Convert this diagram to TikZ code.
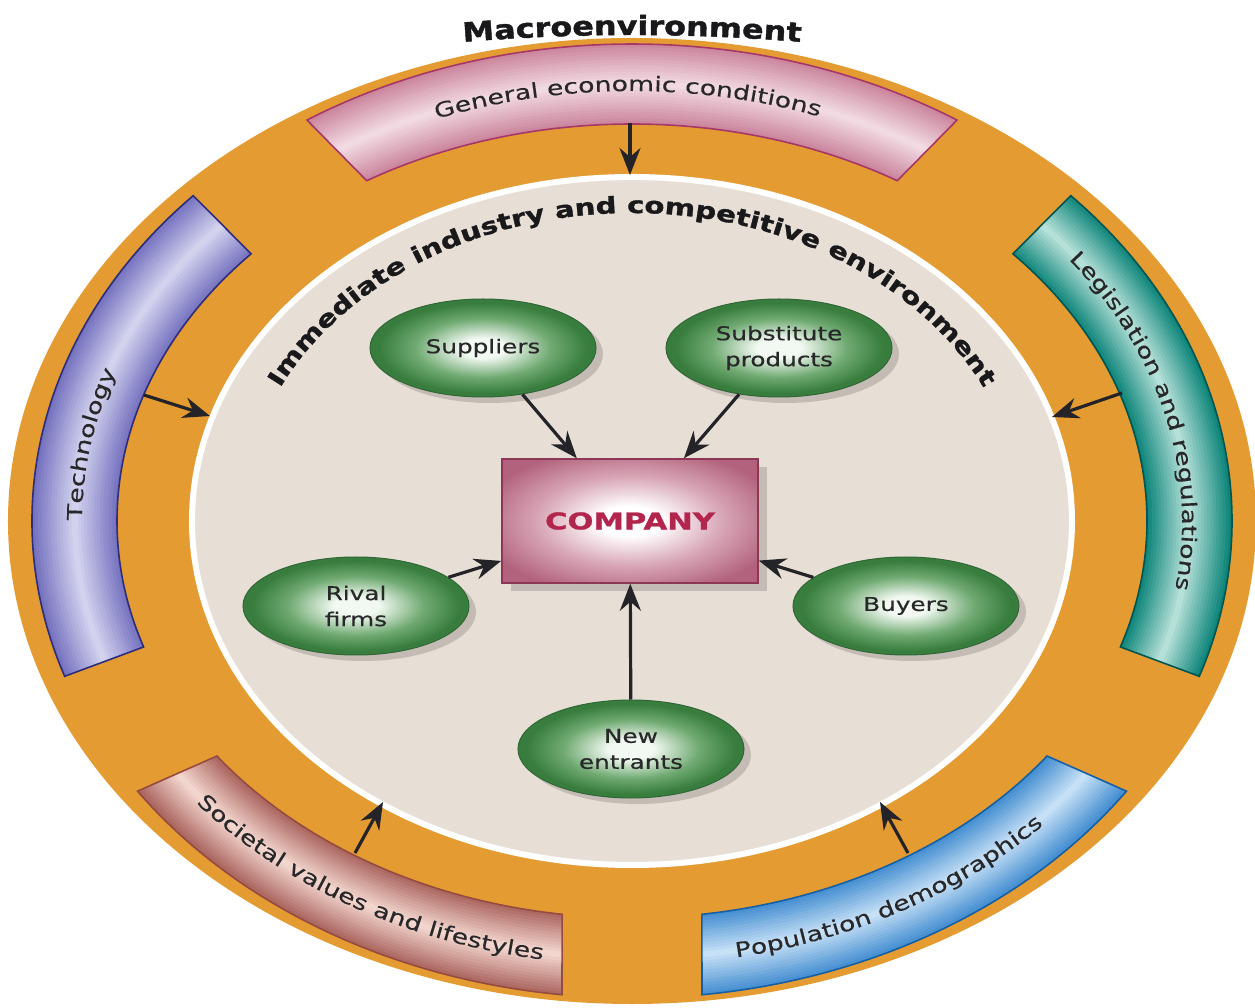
\documentclass[tikz,border=0pt]{standalone}
\usepackage{fontspec}
\usepackage{graphicx}
\usetikzlibrary{shapes.geometric,arrows.meta,decorations.text,shadows}
\newfontfamily\bandfont{DejaVu Sans}[FakeStretch=1.3,FakeBold=0.3]
\newfontfamily\nodefont{DejaVu Sans}[FakeStretch=1.3,FakeBold=0.5]
\newfontfamily\heavyA{DejaVu Sans}[FakeStretch=1.2,FakeBold=1.6]
\newfontfamily\heavyB{DejaVu Sans}[FakeStretch=1.28,FakeBold=1.4]
\newfontfamily\compfam{DejaVu Sans}[FakeStretch=1.33,FakeBold=1.2]

\definecolor{orangebg}{RGB}{228,155,50}
\definecolor{beige}{RGB}{231,223,213}
\definecolor{txtgray}{RGB}{40,40,42}
\definecolor{darktxt}{RGB}{25,25,28}
\definecolor{arrowc}{RGB}{35,35,40}
\definecolor{greenD}{RGB}{56,125,62}
\definecolor{greenM}{RGB}{112,170,114}
\definecolor{greenC}{RGB}{242,249,242}
\definecolor{greenB}{RGB}{48,102,54}
\definecolor{shadowc}{RGB}{196,188,180}
\definecolor{compD}{RGB}{178,98,124}
\definecolor{compM}{RGB}{216,166,182}
\definecolor{compB}{RGB}{140,55,85}
\definecolor{compTxt}{RGB}{178,38,78}
\definecolor{genD}{RGB}{198,122,148}
\definecolor{genL}{RGB}{242,218,226}
\definecolor{genB}{RGB}{165,55,105}
\definecolor{techD}{RGB}{110,106,188}
\definecolor{techL}{RGB}{210,210,238}
\definecolor{techB}{RGB}{45,45,125}
\definecolor{legD}{RGB}{0,125,115}
\definecolor{legL}{RGB}{180,224,216}
\definecolor{legB}{RGB}{0,85,80}
\definecolor{socD}{RGB}{162,88,82}
\definecolor{socL}{RGB}{242,214,206}
\definecolor{socB}{RGB}{150,75,65}
\definecolor{popD}{RGB}{52,132,204}
\definecolor{popL}{RGB}{198,224,246}
\definecolor{popB}{RGB}{20,95,165}

\pgfdeclareradialshading{greenball}{\pgfpoint{0bp}{0bp}}{color(0bp)=(greenC); color(5bp)=(greenC); color(15bp)=(greenM); color(23bp)=(greenD); color(25bp)=(greenD); color(50bp)=(greenD)}
\pgfdeclareradialshading{compshade}{\pgfpoint{0bp}{0bp}}{color(0bp)=(white); color(6bp)=(white); color(18bp)=(compM); color(30bp)=(compD); color(50bp)=(compD)}

\newcommand\bandtxt{\bandfont\fontsize{20.5}{24}\selectfont\color{txtgray}}
\newcommand\nodetxt{\nodefont\fontsize{19}{26}\selectfont}
\newcommand\macrotxt{\heavyA\bfseries\fontsize{26.5}{30}\selectfont\color{darktxt}}
\newcommand\imtxt{\heavyB\bfseries\fontsize{22.8}{26}\selectfont\color{darktxt}}

% o1 o2 i1 i2 m1 m2 dark light border
\newcommand\band[9]{%
  \begin{scope}
    \clip (#1:600pt and 477pt) arc[start angle=#1,end angle=#2,x radius=600pt,y radius=477pt]
      -- (#3:515pt and 397pt) arc[start angle=#3,end angle=#4,x radius=515pt,y radius=397pt] -- cycle;
    \fill[#7] (-700,-600) rectangle (700,600);
    \foreach \k in {0,...,14}{
      \pgfmathsetmacro\bw{92*(1-\k/15)}
      \pgfmathtruncatemacro\bp{100*\k/14}
      \draw[line width=\bw pt, color=#8!\bp!#7] (#5:557pt and 437pt)
        arc[start angle=#5,end angle=#6,x radius=557pt,y radius=437pt];
    }
  \end{scope}
  \draw[#9, line width=1.6pt, line join=miter] (#1:600pt and 477pt) arc[start angle=#1,end angle=#2,x radius=600pt,y radius=477pt]
      -- (#3:515pt and 397pt) arc[start angle=#3,end angle=#4,x radius=515pt,y radius=397pt] -- cycle;
}

\begin{document}
\begin{tikzpicture}[x=1pt,y=1pt,
  env/.style={ellipse, minimum width=226pt, minimum height=98pt, inner sep=0pt,
    draw=greenB, line width=1pt, shading=greenball,
    drop shadow={shadow xshift=7pt,shadow yshift=-6pt,fill=shadowc,opacity=1},
    align=center, font=\nodetxt, text=txtgray},
  compbox/.style={rectangle, minimum width=256pt, minimum height=124pt, inner sep=0pt,
    draw=compB, line width=1.5pt, shading=compshade,
    drop shadow={shadow xshift=9pt,shadow yshift=-8pt,fill=shadowc,opacity=1},
    font=\compfam\bfseries\fontsize{23}{26}\selectfont, text=compTxt},
  arr/.style={-{Stealth[length=27pt,width=21pt,inset=9pt]}, line width=3.2pt, draw=arrowc},
  curvetext/.style={decorate, decoration={text along path, text align=center, text={#1}}}
]
\useasboundingbox (-632,-487) rectangle (623,521);
\fill[white] (-632,-487) rectangle (623,521);

% macroenvironment ring
\fill[orangebg] (0,0) ellipse [x radius=624pt, y radius=483pt];

% bands
\band{122.8}{57.2}{59}{121}{127}{53}{genD}{genL}{genB}
\band{137}{199}{198.5}{137.7}{133}{203}{techD}{techL}{techB}
\band{43}{-19}{-18.5}{42.3}{47}{-23}{legD}{legL}{legB}
\band{214.5}{263.3}{262.2}{216.3}{210}{268}{socD}{socL}{socB}
\band{-34.5}{-83.3}{-82.2}{-36.3}{-30}{-88}{popD}{popL}{popB}

% band labels
\path[curvetext={|\bandtxt|General economic conditions}]
  (135.5:550pt and 430pt) arc[start angle=135.5,end angle=45.5,x radius=550pt,y radius=430pt];
\path[curvetext={|\bandtxt|Technology}]
  (216:550pt and 430pt) arc[start angle=216,end angle=126,x radius=550pt,y radius=430pt];
\path[curvetext={|\bandtxt|Legislation and regulations}]
  (58:550pt and 430pt) arc[start angle=58,end angle=-32,x radius=550pt,y radius=430pt];
\path[curvetext={|\bandtxt|Societal values and lifestyles}]
  (193:564pt and 444pt) arc[start angle=193,end angle=283,x radius=564pt,y radius=444pt];
\path[curvetext={|\bandtxt|Population demographics}]
  (256:564pt and 444pt) arc[start angle=256,end angle=346,x radius=564pt,y radius=444pt];

% title
\path[curvetext={|\macrotxt|Macroenvironment}]
  (-192,477) .. controls (-64,489) and (64,489) .. (192,477);

% immediate environment
\draw[white, line width=6pt, fill=beige] (0,0) ellipse [x radius=440pt, y radius=344pt];
\path[curvetext={|\imtxt|Immediate industry and competitive environment}]
  (178:390pt and 308pt) arc[start angle=178,end angle=2,x radius=390pt,y radius=308pt];

% band arrows
\coordinate (g1) at (-2,398);   \coordinate (g2) at (-2,346);
\coordinate (t1) at (-488,126); \coordinate (t2) at (-422,105);
\coordinate (l1) at (490,128);  \coordinate (l2) at (420,104);
\coordinate (s1) at (-277,-332);\coordinate (s2) at (-249,-281);
\coordinate (p1) at (276,-332); \coordinate (p2) at (248,-281);
\draw[arr] (g1) -- (g2);
\draw[arr] (t1) -- (t2);
\draw[arr] (l1) -- (l2);
\draw[arr] (s1) -- (s2);
\draw[arr] (p1) -- (p2);

% nodes
\node[compbox] (comp) at (-2,0) {COMPANY};
\node[env] (sup) at (-149,173) {Suppliers};
\node[env] (sub) at (147,173) {Substitute\\products};
\node[env] (riv) at (-276,-85) {Rival\\firms};
\node[env] (buy) at (274,-85) {Buyers};
\node[env] (new) at (-1,-228) {New\\entrants};

\draw[arr] (sup) -- (comp);
\draw[arr] (sub) -- (comp);
\draw[arr] (riv) -- (comp);
\draw[arr] (buy) -- (comp);
\draw[arr] (new) -- (comp);
\end{tikzpicture}
\end{document}
